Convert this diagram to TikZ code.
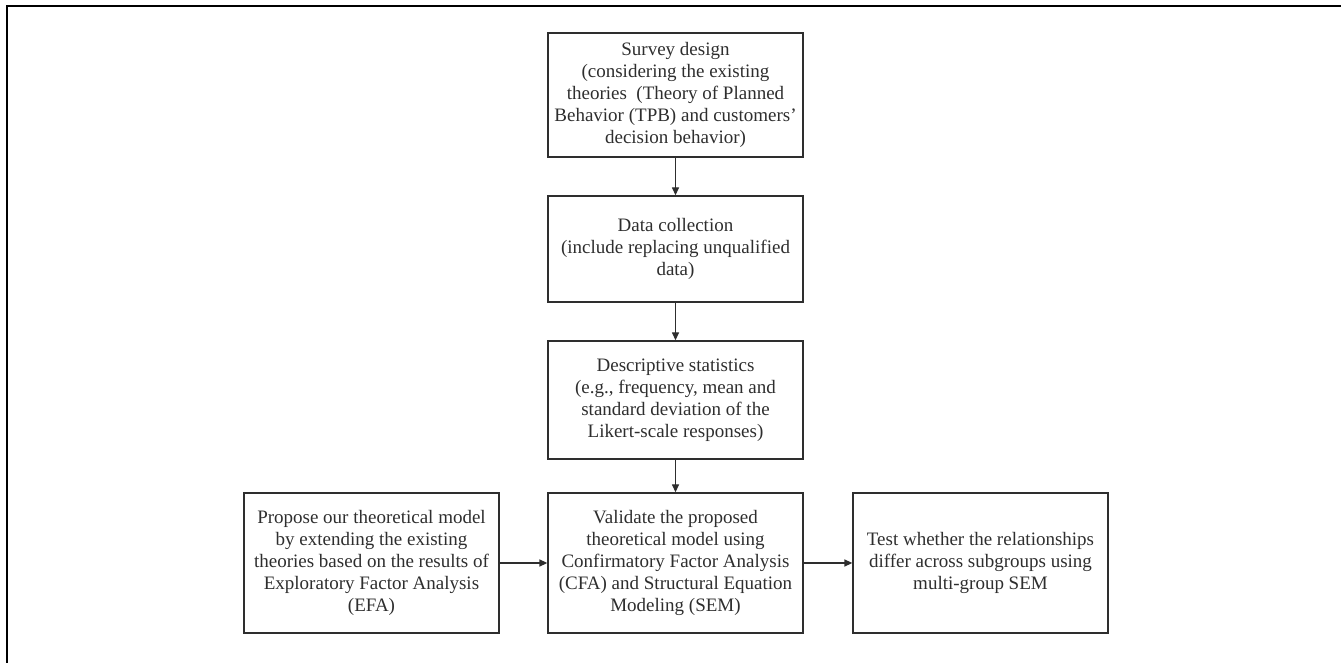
\documentclass[tikz,border=0pt]{standalone}
\usepackage{fontspec}
\setmainfont{Liberation Serif}
\usetikzlibrary{arrows.meta}
\definecolor{ink}{gray}{0.18}
\tikzset{
  box/.style={draw=ink, line width=1.3pt, text=ink, align=center, minimum width=255pt,
    inner sep=2pt, font=\fontsize{19}{22}\selectfont},
  conn/.style={draw=ink, line width=1.3pt, -{Triangle[length=8pt,width=7pt]}},
  frame/.style={draw=black, line width=2pt}
}
\begin{document}
\begin{tikzpicture}[x=1pt,y=1pt]
\useasboundingbox (0,0) rectangle (1341,663);
\draw[frame] (6.7,0) -- (6.7,657) -- (1341,657);
\node[box, minimum height=124pt] (survey) at (675.5,568) {Survey design\\(considering the existing\\theories\ \ (Theory of Planned\\Behavior (TPB) and customers’\\decision behavior)};
\node[box, minimum height=106pt] (data) at (675.5,414) {Data collection\\(include replacing unqualified\\data)};
\node[box, minimum height=118pt] (desc) at (675.5,263) {Descriptive statistics\\(e.g., frequency, mean and\\standard deviation of the\\Likert-scale responses)};
\node[box, minimum height=140pt] (valid) at (675.5,100) {Validate the proposed\\theoretical model using\\Confirmatory Factor Analysis\\(CFA) and Structural Equation\\Modeling (SEM)};
\node[box, minimum height=140pt] (prop) at (371.5,100) {Propose our theoretical model\\by extending the existing\\theories based on the results of\\Exploratory Factor Analysis\\(EFA)};
\node[box, minimum height=140pt] (test) at (980.5,100) {Test whether the relationships\\differ across subgroups using\\multi-group SEM};
\draw[conn] (survey) -- (data);
\draw[conn] (data) -- (desc);
\draw[conn] (desc) -- (valid);
\draw[conn] (prop) -- (valid);
\draw[conn] (valid) -- (test);
\end{tikzpicture}
\end{document}
